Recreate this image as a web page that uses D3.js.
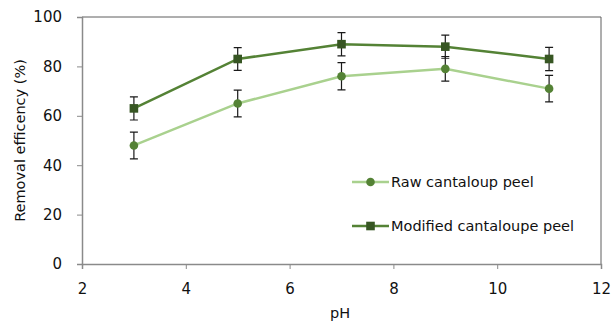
<!DOCTYPE html>
<html>
<head>
<meta charset="utf-8">
<script src="https://cdn.jsdelivr.net/npm/d3@7"></script>
<style>
  body { margin: 0; background: #fff; }
  text { font-family: "DejaVu Sans", sans-serif; fill: #111; }
</style>
</head>
<body>
<div id="chart"></div>
<script>
// chart data
var phValues = [3, 5, 7, 9, 11];
var rawValues = [48, 65, 76, 79, 71];
var rawErrors = [5.4, 5.4, 5.5, 5, 5.4];
var modValues = [63, 83, 89, 88, 83];
var modErrors = [4.7, 4.6, 4.7, 4.7, 4.7];
var xTicks = [2, 4, 6, 8, 10, 12];
var yTicks = [0, 20, 40, 60, 80, 100];
var seriesNames = ["Raw cantaloup peel", "Modified cantaloupe peel"];

var width = 614, height = 325;
var margin = {top: 17, right: 13, bottom: 61, left: 82};

var svg = d3.select("#chart").append("svg")
    .attr("width", width)
    .attr("height", height);

var x = d3.scaleLinear().domain([2, 12]).range([margin.left, width - margin.right]);
var y = d3.scaleLinear().domain([0, 100]).range([height - margin.bottom, margin.top]);

//plot box border (top and right)
svg.append("path")
    .attr("d", "M" + x(2) + "," + y(100) + "H" + x(12) + "V" + y(0))
    .attr("fill", "none")
    .attr("stroke", "#5f5f5f")
    .attr("stroke-width", 1);

//axes
var xAxis = svg.append("g")
    .attr("transform", "translate(0," + y(0) + ")")
    .call(d3.axisBottom(x).tickValues(xTicks).tickSize(5).tickPadding(14));
var yAxis = svg.append("g")
    .attr("transform", "translate(" + x(2) + ",0)")
    .call(d3.axisLeft(y).tickValues(yTicks).tickSize(5).tickPadding(15));

[xAxis, yAxis].forEach(function(a){
    a.select(".domain").attr("stroke", "#8a8a8a").attr("stroke-width", 1.5);
    a.selectAll(".tick line").attr("stroke", "#8a8a8a");
    a.selectAll(".tick text").style("font-size", "15px").style("font-family", "DejaVu Sans, sans-serif").attr("fill", "#111");
});

//axis titles
svg.append("text")
    .attr("x", 340).attr("y", 318)
    .attr("text-anchor", "middle")
    .style("font-size", "14.5px")
    .text("pH");
svg.append("text")
    .attr("transform", "translate(25," + ((y(0) + y(100)) / 2) + ") rotate(-90)")
    .attr("text-anchor", "middle")
    .style("font-size", "14.5px")
    .text("Removal efficency (%)");

var series = [
    {name: seriesNames[0], values: rawValues, errors: rawErrors, line: "#a9d18e", marker: "#548235", shape: "circle"},
    {name: seriesNames[1], values: modValues, errors: modErrors, line: "#548235", marker: "#375623", shape: "square"}
];

var line = d3.line()
    .x(function(d){ return x(d.ph); })
    .y(function(d){ return y(d.v); });

function drawMarker(g, s, cx, cy) {
    if (s.shape == "circle") {
        g.append("circle").attr("cx", cx).attr("cy", cy).attr("r", 4.3).attr("fill", s.marker);
    } else {
        g.append("rect").attr("x", cx - 4.3).attr("y", cy - 4.3)
            .attr("width", 8.6).attr("height", 8.6).attr("fill", s.marker);
    }
}

series.forEach(function(s){
    var pts = phValues.map(function(p, i){ return {ph: p, v: s.values[i], e: s.errors[i]}; });
    var g = svg.append("g");

    g.append("path")
        .datum(pts)
        .attr("d", line)
        .attr("fill", "none")
        .attr("stroke", s.line)
        .attr("stroke-width", 2.5);

    //error bars
    pts.forEach(function(d){
        var cx = x(d.ph);
        g.append("path")
            .attr("d", "M" + cx + "," + y(d.v - d.e) + "V" + y(d.v + d.e) +
                "M" + (cx - 4) + "," + y(d.v - d.e) + "H" + (cx + 4) +
                "M" + (cx - 4) + "," + y(d.v + d.e) + "H" + (cx + 4))
            .attr("stroke", "#1a1a1a")
            .attr("stroke-width", 1.2)
            .attr("fill", "none");
    });

    pts.forEach(function(d){
        drawMarker(g, s, x(d.ph), y(d.v));
    });
});

//legend
var legendY = [182, 226];
series.forEach(function(s, i){
    var g = svg.append("g");
    g.append("line")
        .attr("x1", 352).attr("x2", 389)
        .attr("y1", legendY[i]).attr("y2", legendY[i])
        .attr("stroke", s.line).attr("stroke-width", 2.5);
    drawMarker(g, s, 370.5, legendY[i]);
    g.append("text")
        .attr("x", 391).attr("y", legendY[i] + 5)
        .style("font-size", "14.5px")
        .text(s.name);
});
</script>
</body>
</html>
